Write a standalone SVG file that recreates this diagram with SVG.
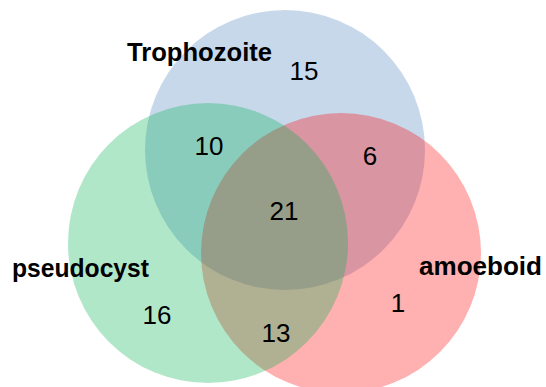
<svg xmlns="http://www.w3.org/2000/svg" width="546" height="387" viewBox="0 0 546 387">
<style>
.set{fill-opacity:0.31;stroke:none}
.lbl{font-family:"Liberation Sans",Arial,sans-serif;font-weight:bold;font-size:25px;fill:#000}
.num{font-family:"Liberation Sans",Arial,sans-serif;font-size:26px;fill:#000;text-anchor:middle}
</style>
<rect width="546" height="387" fill="#fff"/>
<g id="trophozoite">
<circle class="set" cx="285" cy="150" r="140" fill="#4F81BD"/>
<text class="lbl" x="127" y="61" textLength="145" lengthAdjust="spacingAndGlyphs">Trophozoite</text>
</g>
<g id="amoeboid">
<circle class="set" cx="341" cy="253" r="140" fill="#FF0000"/>
<text class="lbl" x="419" y="275" textLength="123" lengthAdjust="spacingAndGlyphs">amoeboid</text>
</g>
<g id="pseudocyst">
<circle class="set" cx="208" cy="243" r="140" fill="#00B050"/>
<text class="lbl" x="12" y="277" textLength="137" lengthAdjust="spacingAndGlyphs">pseudocyst</text>
</g>
<g id="counts">
<text class="num" x="304" y="80">15</text>
<text class="num" x="209" y="155">10</text>
<text class="num" x="370" y="165">6</text>
<text class="num" x="284" y="220">21</text>
<text class="num" x="157" y="324">16</text>
<text class="num" x="276" y="342">13</text>
<text class="num" x="398" y="312">1</text>
</g>
<g id="connectors"/>
</svg>
